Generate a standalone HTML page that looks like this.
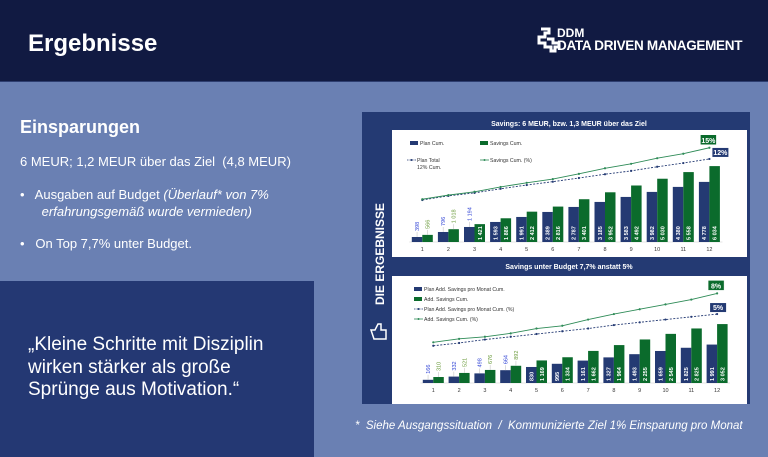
<!DOCTYPE html>
<html><head><meta charset="utf-8"><style>
body{margin:0;width:768px;height:457px;overflow:hidden;background:#6a80b3;font-family:"Liberation Sans",sans-serif;position:relative}
.abs{position:absolute;color:#fff;white-space:nowrap}
</style></head><body>
<div style="position:absolute;left:0;top:0;width:768px;height:81px;background:#111a42;border-bottom:1px solid #2e3e70"></div>
<div class="abs" style="left:28px;top:30px;font-size:24px;font-weight:bold">Ergebnisse</div>
<div style="position:absolute;left:537px;top:27px;width:225px;height:26px">
 <svg width="30" height="26" style="position:absolute;left:0;top:0"><path d="M4 2h8v4h-4v4h-6v6h6v4h6v4h4v-4h4v-4h-6v-4h-6" fill="none" stroke="#fff" stroke-width="3"/></svg>
 <div class="abs" style="left:20px;top:-1px;font-size:12px;font-weight:bold">DDM</div>
 <div class="abs" style="left:20px;top:11px;font-size:13.5px;font-weight:bold;letter-spacing:-0.3px">DATA DRIVEN MANAGEMENT</div>
</div>
<div class="abs" style="left:20px;top:117px;font-size:18px;font-weight:bold">Einsparungen</div>
<div class="abs" style="left:20px;top:154px;font-size:13px">6 MEUR; 1,2 MEUR über das Ziel&nbsp; (4,8 MEUR)</div>
<div class="abs" style="left:20px;top:186px;font-size:13px;line-height:17px">•&nbsp;&nbsp; Ausgaben auf Budget <i>(Überlauf* von 7%</i><br>&nbsp;&nbsp;&nbsp;&nbsp;&nbsp; <i>erfahrungsgemäß wurde vermieden)</i></div>
<div class="abs" style="left:20px;top:236px;font-size:13px">•&nbsp;&nbsp; On Top 7,7% unter Budget.</div>
<div style="position:absolute;left:0;top:281px;width:314px;height:176px;background:#243873"></div>
<div class="abs" style="left:28px;top:334px;font-size:19px;line-height:22.5px">„Kleine Schritte mit Disziplin<br>wirken stärker als große<br>Sprünge aus Motivation.“</div>
<div class="abs" style="left:355px;top:420px;font-size:11.5px;font-style:italic">*&nbsp; Siehe Ausgangssituation&nbsp; /&nbsp; Kommunizierte Ziel 1% Einsparung pro Monat</div>

<svg id="panel" width="768" height="457" style="position:absolute;left:0;top:0" font-family="Liberation Sans, sans-serif">
 <rect x="362" y="112" width="388" height="292" fill="#243a73"/>
 <text x="0" y="0" transform="translate(384,305) rotate(-90)" fill="#fff" font-size="12" font-weight="bold">DIE ERGEBNISSE</text>
 <path d="M371 330h4l3-6h3v6h5v9h-12z" fill="none" stroke="#fff" stroke-width="1.5"/>
 <rect x="392" y="130" width="355" height="127" fill="#fff"/>
 <text x="569" y="126" fill="#fff" font-size="7" font-weight="bold" text-anchor="middle">Savings: 6 MEUR, bzw. 1,3 MEUR über das Ziel</text>
 <rect x="392" y="276" width="355" height="128" fill="#fff"/>
 <text x="569" y="269" fill="#fff" font-size="7" font-weight="bold" text-anchor="middle">Savings unter Budget 7,7% anstatt 5%</text>
 <g id="c1"></g><g id="c2"></g>
</svg>
<script>
const NS="http://www.w3.org/2000/svg";
const months=["1","2","3","4","5","6","7","8","9","10","11","12"];
const topPlan=[398,796,1194,1593,1991,2389,2787,3185,3583,3982,4380,4778];
const topSavings=[566,1018,1421,1886,2412,2816,3401,3952,4492,5030,5558,6034];
const topPlanPct=[1,2.1,2.9,4,5,5.9,6.9,7.9,8.8,9.9,10.9,12];
const topSavPct=[1.2,2.3,3.2,4.5,5.6,6.6,8.0,9.5,10.7,12.2,13.4,15];
const botPlan=[166,332,498,664,830,995,1161,1327,1493,1659,1825,1991];
const botSavings=[310,521,676,892,1169,1334,1662,1964,2255,2545,2825,3052];
const botPlanPct=[0.4,0.8,1.3,1.7,2.1,2.5,2.9,3.4,3.8,4.2,4.6,5.0];
const botSavPct=[0.9,1.4,1.7,2.2,2.9,3.3,4.2,5.0,5.7,6.4,7.1,8.0];
const NAVY="#243a73",GREEN="#0b6b2c";
function mk(g,tag,a,txt){const e=document.createElementNS(NS,tag);for(const k in a)e.setAttribute(k,a[k]);if(txt!==undefined)e.textContent=txt;g.appendChild(e);return e;}
function fmt(v){const s=String(v);return s.length>3?s.slice(0,-3)+" "+s.slice(-3):s;}
function draw(gid,cfg){
 const g=document.getElementById(gid);
 const x=i=>cfg.x0+i*cfg.step;
 const yb=v=>cfg.base-v/cfg.perPx;
 const yp=p=>cfg.pa-p*cfg.pb;
 months.forEach((m,i)=>{
  const t=mk(g,"text",{x:x(i),y:cfg.base+9,"font-size":5.5,fill:"#333","text-anchor":"middle"},m);
  
  
 });
 mk(g,"line",{x1:cfg.x0-cfg.step/2,x2:x(11)+cfg.step/2,y1:cfg.base,y2:cfg.base,stroke:"#ccc","stroke-width":0.6});
 [[cfg.plan,NAVY,-cfg.bw,"#3346d6",cfg.minPlan],[cfg.sav,GREEN,0,"#6a9a3a",cfg.minSav]].forEach(([arr,col,off,lc,minIn])=>{
  arr.forEach((v,i)=>{
   const bx=x(i)+off,by=yb(v),h=cfg.base-by;
   const r=mk(g,"rect",{x:bx,y:by,width:cfg.bw,height:h,fill:col});
   
   
   const cx=bx+cfg.bw/2;
   if(v>=minIn){
    const t=mk(g,"text",{x:0,y:0,transform:`translate(${cx+2},${cfg.base-2}) rotate(-90)`,"font-size":5.5,"font-weight":"bold",fill:"#fff"},fmt(v));
    
    
   }else{
    mk(g,"line",{x1:cx,x2:cx,y1:by,y2:by-5,stroke:"#bbb","stroke-width":0.5});
    const t=mk(g,"text",{x:0,y:0,transform:`translate(${cx+2},${by-6}) rotate(-90)`,"font-size":5.5,fill:lc},fmt(v));
    
    
   }
  });
 });
 [[cfg.planPct,NAVY,"2,1.5"],[cfg.savPct,"#2e8b57",""]].forEach(([arr,col,dash])=>{
  const pts=arr.map((p,i)=>x(i)+","+yp(p)).join(" ");
  const l=mk(g,"polyline",{points:pts,fill:"none",stroke:col,"stroke-width":0.9,"stroke-dasharray":dash});
  
  
  arr.forEach((p,i)=>mk(g,"circle",{cx:x(i),cy:yp(p),r:1.1,fill:col}));
 });
 const sl=cfg.savPct[11],pl=cfg.planPct[11];
 const b1=mk(g,"rect",{x:x(11)-9,y:yp(sl)-13,width:16,height:10,fill:GREEN,stroke:"#fff","stroke-width":0.5});
 
 
 mk(g,"text",{x:x(11)-1,y:yp(sl)-5,"font-size":7,"font-weight":"bold",fill:"#fff","text-anchor":"middle"},Math.round(sl)+"%");
 const b2=mk(g,"rect",{x:x(11)+cfg.c2dx,y:yp(pl)-11,width:16,height:9,fill:NAVY});
 
 
 mk(g,"text",{x:x(11)+cfg.c2dx+8,y:yp(pl)-4,"font-size":7,"font-weight":"bold",fill:"#fff","text-anchor":"middle"},Math.round(pl)+"%");
 cfg.legend.forEach(([lx,ly,type,label])=>{
  if(type[0]==="bar")mk(g,"rect",{x:lx,y:ly-3,width:8,height:4,fill:type[1]});
  else{mk(g,"line",{x1:lx,x2:lx+9,y1:ly-1,y2:ly-1,stroke:type[1],"stroke-width":0.8,"stroke-dasharray":type[2]});mk(g,"circle",{cx:lx+4.5,cy:ly-1,r:1,fill:type[1]});}
  const t=mk(g,"text",{x:lx+10,y:ly+1,"font-size":5.2,fill:"#333"},label);
  
  
 });
}
draw("c1",{x0:422.3,step:26.1,bw:10.5,base:242,perPx:79.5,pa:203.7,pb:3.73,minPlan:1500,minSav:1400,plan:topPlan,sav:topSavings,planPct:topPlanPct,savPct:topSavPct,c2dx:3,
 legend:[[410,144,["bar",NAVY],"Plan Cum."],[480,144,["bar",GREEN],"Savings Cum."],[407,161,["line",NAVY,"1.5,1"],"Plan  Total"],[480,161,["line","#2e8b57",""],"Savings Cum. (%)"]]});
(function(){const t=mk(document.getElementById("c1"),"text",{x:417,y:169,"font-size":5.2,fill:"#333"},"12% Cum.");})();
draw("c2",{x0:433.3,step:25.8,bw:10.5,base:383,perPx:51.8,pa:348.5,pb:6.89,minPlan:800,minSav:1000,plan:botPlan,sav:botSavings,planPct:botPlanPct,savPct:botSavPct,c2dx:-7,
 legend:[[414,290,["bar",NAVY],"Plan Add. Savings pro Monat Cum."],[414,300,["bar",GREEN],"Add. Savings Cum."],[414,310,["line",NAVY,"1.5,1"],"Plan Add. Savings pro Monat Cum. (%)"],[414,320,["line","#2e8b57",""],"Add. Savings Cum. (%)"]]});
</script>
</body></html>
